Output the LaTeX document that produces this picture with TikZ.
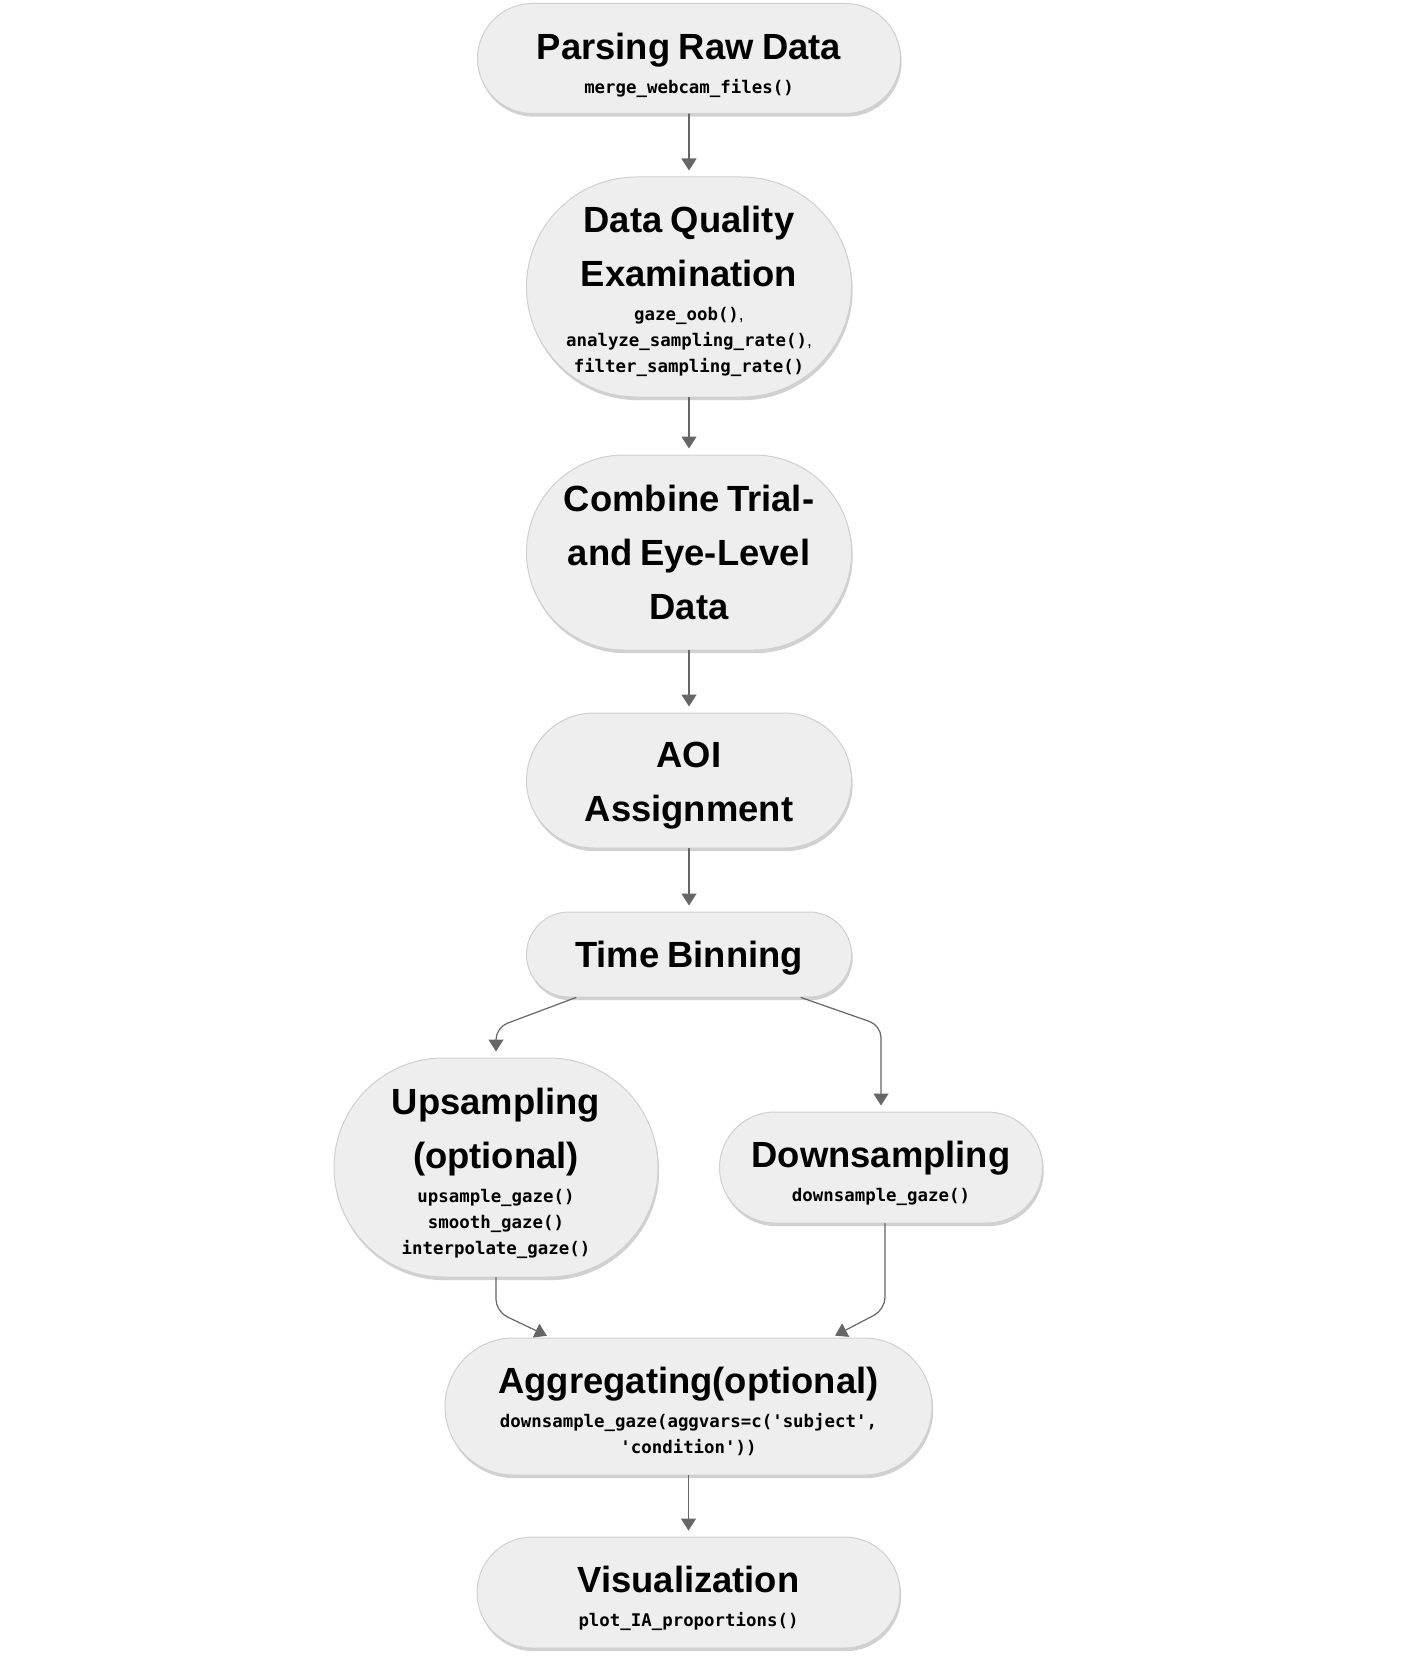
\documentclass[tikz,border=0pt]{standalone}
\usepackage{fontspec}
\setmainfont{Liberation Sans}
\setmonofont{DejaVu Sans Mono}
\usetikzlibrary{arrows.meta,shadows}

% text styles for the boxes
\newcommand{\ttl}{\fontsize{18.2pt}{27pt}\selectfont\bfseries\spaceskip=0.16em plus 0.05em\relax}
\newcommand{\cod}{\fontsize{8.7pt}{13pt}\selectfont\ttfamily\bfseries}
\newcommand{\lastline}{\par\kern-\prevdepth}
\newcommand{\codeend}[1][4pt]{\par\kern-\prevdepth\kern-#1}
\newcommand{\thincomma}{{\rmfamily\mdseries,}}

\begin{document}
\begin{tikzpicture}[x=0.5pt, y=-0.5pt, line cap=round, line join=round,
  stepbox/.style={draw=boxline, fill=boxfill, line width=0.5pt, align=center, inner sep=0pt,
    drop shadow={shadow xshift=0.6pt, shadow yshift=-1.6pt, opacity=0.18, fill=black}},
  flow/.style={draw=arrowgray, line width=0.6pt, -{Triangle[width=7.5pt,length=6pt]},
    shorten >=3pt, rounded corners=6pt}]

% Colors
\definecolor{boxfill}{RGB}{238,238,238}
\definecolor{boxline}{RGB}{208,208,208}
\definecolor{arrowgray}{RGB}{102,102,102}

% Page
\fill[white] (0,0) rectangle (1408,1658);
\useasboundingbox (0,0) rectangle (1408,1658);

% Main column
\node[stepbox, text width=211.5pt, minimum height=55pt, rounded corners=27.5pt] (parse) at (689,58.5)
  {{\ttl Parsing Raw Data\par}\vspace{4pt}{\cod merge\_webcam\_files()\codeend[4.5pt]}};
\node[stepbox, text width=162.5pt, minimum height=110pt, rounded corners=55pt] (quality) at (689,287)
  {{\ttl Data Quality\\Examination\par}\vspace{4pt}{\cod gaze\_oob()\thincomma\\analyze\_sampling\_rate()\thincomma\\filter\_sampling\_rate()\codeend[2.5pt]}};
\node[stepbox, text width=162.5pt, minimum height=97.5pt, rounded corners=48.75pt] (combine) at (689,552.5)
  {{\ttl Combine Trial-\\and Eye-Level\\Data\lastline}};
\node[stepbox, text width=162.5pt, minimum height=67.5pt, rounded corners=33.75pt] (aoi) at (689,780.5)
  {{\ttl AOI\\Assignment\codeend[1.5pt]}};
\node[stepbox, text width=162.5pt, minimum height=42.5pt, rounded corners=21.25pt] (time) at (689,954.5)
  {{\ttl Time Binning\lastline}};

% Two branches
\node[stepbox, text width=162pt, minimum height=109.5pt, rounded corners=54.75pt] (up) at (496,1167.5)
  {{\ttl Upsampling\\(optional)\par}\vspace{4pt}{\cod upsample\_gaze()\\smooth\_gaze()\\interpolate\_gaze()\codeend}};
\node[stepbox, text width=161.5pt, minimum height=55.5pt, rounded corners=27.75pt] (down) at (881,1167.5)
  {{\ttl Downsampling\par}\vspace{4pt}{\cod downsample\_gaze()\codeend}};

% Bottom
\node[stepbox, text width=243.5pt, minimum height=68.5pt, rounded corners=34.25pt] (agg) at (688.5,1406.5)
  {{\ttl Aggregating(optional)\par}\vspace{4pt}{\cod downsample\_gaze(aggvars=c('subject',\\'condition'))\codeend}};
\node[stepbox, text width=211.5pt, minimum height=55.5pt, rounded corners=27.75pt] (vis) at (688.5,1592.5)
  {{\ttl Visualization\par}\vspace{4pt}{\cod plot\_IA\_proportions()\codeend}};

% Arrows
\draw[flow] (parse) -- (quality);
\draw[flow] (quality) -- (combine);
\draw[flow] (combine) -- (aoi);
\draw[flow] (aoi) -- (time);
\draw[flow] ([xshift=-56.5pt]time.south) -- ([yshift=15pt]up.north) -- (up.north);
\draw[flow] ([xshift=56pt]time.south) -- ([yshift=43pt]down.north) -- (down.north);
\draw[flow, shorten >=2pt] (up.south) -- ++(0,34) -- ([xshift=-69pt]agg.north);
\draw[flow, shorten >=2pt] ([xshift=2pt]down.south) -- ++(0,86) -- ([xshift=71.5pt]agg.north);
\draw[flow] (agg) -- (vis);
\end{tikzpicture}
\end{document}
